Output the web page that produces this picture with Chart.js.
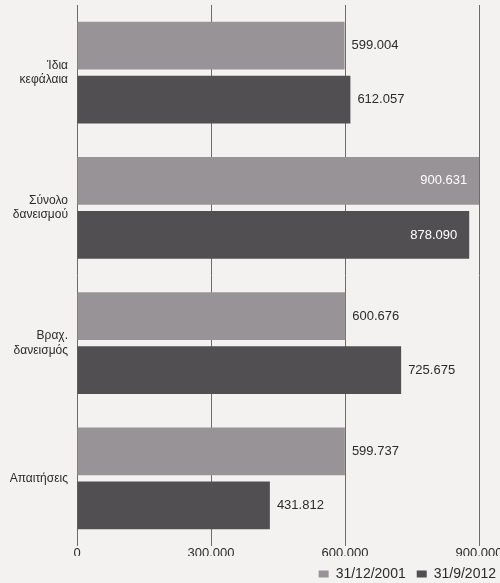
<!DOCTYPE html>
<html>
<head>
<meta charset="utf-8">
<script src="https://cdn.jsdelivr.net/npm/chart.js@4"></script>
<style>
  html, body { margin: 0; padding: 0; background: #f3f2f1; }
  #wrap { width: 500px; height: 583px; }
</style>
</head>
<body>
<div id="wrap"><canvas id="barChart"></canvas></div>
<script>
// κατηγορίες
const categories = [['Ίδια', 'κεφάλαια'], ['Σύνολο', 'δανεισμού'], ['Βραχ.', 'δανεισμός'], 'Απαιτήσεις'];
const seriesNames = ['31/12/2001', '31/9/2012'];
const values2001 = [599004, 900631, 600676, 599737];
const values2012 = [612057, 878090, 725675, 431812];
const xTicks = [0, 300000, 600000, 900000];

const fmt = v => String(v).replace(/\B(?=(\d{3})+(?!\d))/g, '.');
const FONT = "'Liberation Sans', Arial, sans-serif";

// τιμές πάνω στις μπάρες
const valueLabels = {
  id: 'valueLabels',
  afterDatasetsDraw(chart) {
    const ctx = chart.ctx;
    ctx.save();
    ctx.font = '13px ' + FONT;
    ctx.textBaseline = 'middle';
    chart.data.datasets.forEach((ds, i) => {
      chart.getDatasetMeta(i).data.forEach((bar, j) => {
        const v = ds.data[j];
        if (v > 800000) {
          ctx.fillStyle = '#ffffff';
          ctx.textAlign = 'right';
          ctx.fillText(fmt(v), bar.x - 12, bar.y);
        } else {
          ctx.fillStyle = '#2b2b2b';
          ctx.textAlign = 'left';
          ctx.fillText(fmt(v), bar.x + 7, bar.y);
        }
      });
    });
    ctx.restore();
  }
};

document.addEventListener('DOMContentLoaded', function() {
  const ctx = document.getElementById('barChart');
  new Chart(ctx, {
    type: 'bar',
    data: {
      labels: categories,
      datasets: [{
        label: seriesNames[0],
        data: values2001,
        backgroundColor: '#979396',
        categoryPercentage: 0.8,
        barPercentage: 0.88
      }, {
        label: seriesNames[1],
        data: values2012,
        backgroundColor: '#524f53',
        categoryPercentage: 0.8,
        barPercentage: 0.88
      }]
    },
    options: {
      indexAxis: 'y',
      responsive: true,
      maintainAspectRatio: false,
      animation: false,
      layout: { padding: { top: 5, right: -7, left: 0, bottom: -8 } },
      plugins: {
        tooltip: { enabled: false },
        legend: {
          position: 'bottom',
          align: 'end',
          labels: {
            boxWidth: 10,
            boxHeight: 7,
            padding: 11,
            color: '#2b2b2b',
            font: { family: FONT, size: 14 }
          }
        }
      },
      scales: {
        x: {
          min: 0,
          max: 900000,
          afterBuildTicks: s => { s.ticks = xTicks.map(v => ({ value: v })); },
          afterFit: s => { s.height = 10; s.paddingRight = 21; s.paddingLeft = 0; },
          ticks: {
            color: '#2b2b2b',
            padding: 0,
            font: { family: FONT, size: 13 },
            callback: v => fmt(v)
          },
          grid: { color: '#6d6b6c', lineWidth: 1, drawTicks: false },
          border: { display: false }
        },
        y: {
          afterFit: s => { s.width = 77; s.paddingTop = 0; s.paddingBottom = 0; },
          ticks: {
            color: '#2b2b2b',
            padding: 9,
            font: { family: FONT, size: 12 }
          },
          grid: { display: false, drawTicks: false },
          border: { display: false }
        }
      }
    },
    plugins: [valueLabels]
  });
});
</script>
</body>
</html>
